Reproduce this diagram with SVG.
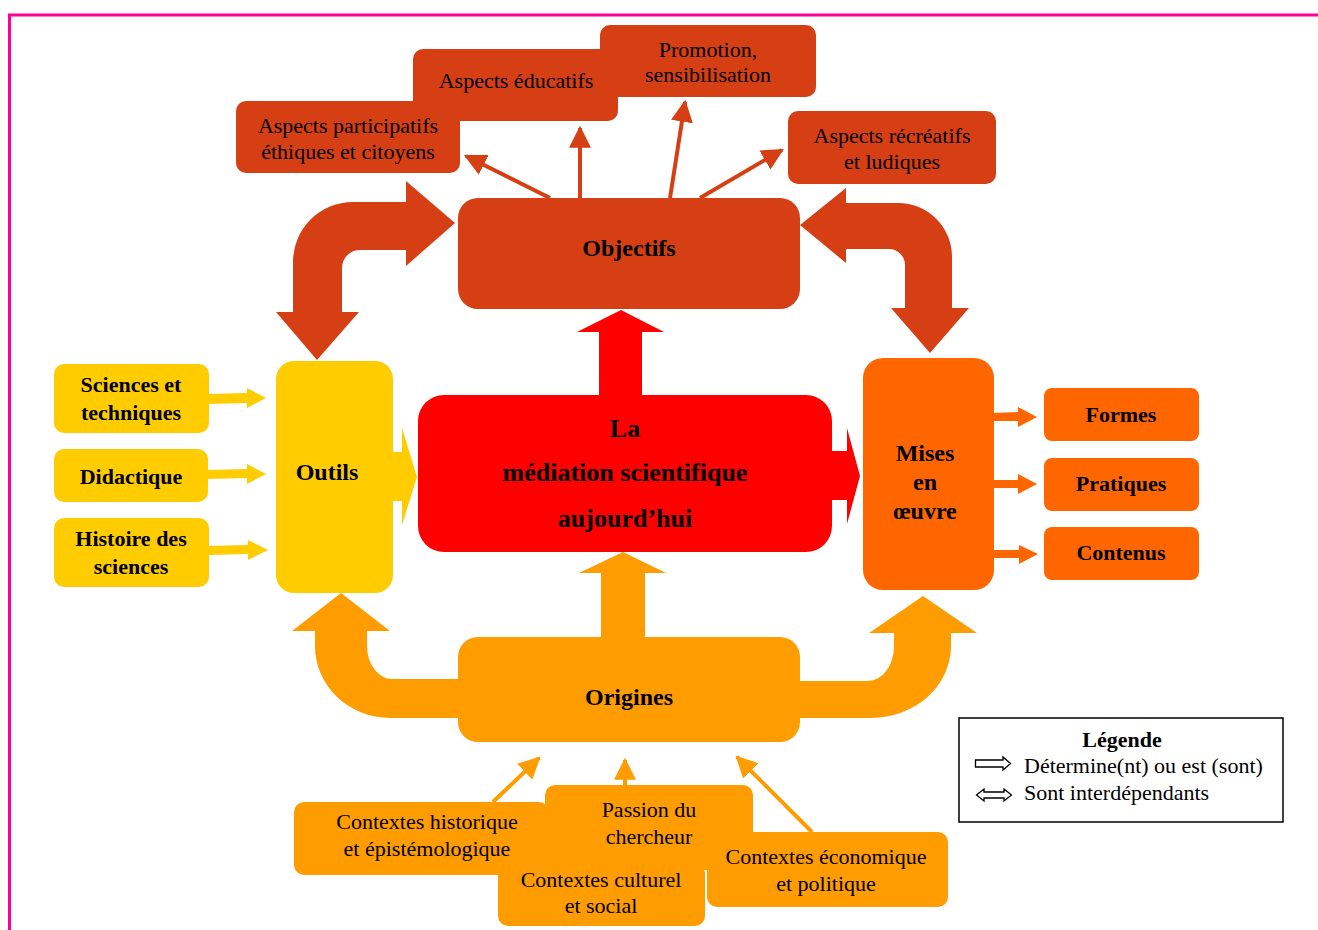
<svg xmlns="http://www.w3.org/2000/svg" width="1318" height="930" viewBox="0 0 1318 930">
<style>
text{font-family:"Liberation Serif","Times New Roman",serif;font-size:22px;fill:#000;text-anchor:middle}
.b{font-weight:bold}
.big{font-size:24px;font-weight:bold}
.med{font-size:26px;font-weight:bold}
.dk{fill:#D63F14}
.yl{fill:#FFCC00}
.og{fill:#FF6600}
.am{fill:#FF9C00}
.rd{fill:#FF0000}
.thin-dk{stroke:#D63F14;stroke-width:4;fill:none}
.thin-am{stroke:#FF9C00;stroke-width:4;fill:none}
</style>
<defs>
<marker id="hdk" viewBox="0 0 10 10" refX="9" refY="5" markerWidth="5.5" markerHeight="5.5" orient="auto" markerUnits="strokeWidth"><path d="M0,0 L10,5 L0,10 Z" fill="#D63F14"/></marker>
<marker id="ham" viewBox="0 0 10 10" refX="9" refY="5" markerWidth="5.5" markerHeight="5.5" orient="auto" markerUnits="strokeWidth"><path d="M0,0 L10,5 L0,10 Z" fill="#FF9C00"/></marker>
</defs>
<rect width="1318" height="930" fill="#fff"/>
<path d="M9.5 930 V15 H1318" fill="none" stroke="#FF0099" stroke-width="3"/>

<g id="connectors">
<line class="thin-dk" x1="550" y1="198" x2="466" y2="156" marker-end="url(#hdk)"/>
<line class="thin-dk" x1="580" y1="198" x2="580" y2="128" marker-end="url(#hdk)"/>
<line class="thin-dk" x1="670" y1="198" x2="685" y2="102" marker-end="url(#hdk)"/>
<line class="thin-dk" x1="700" y1="198" x2="782" y2="150" marker-end="url(#hdk)"/>
<path class="dk" d="M455 223 L406 181 L406 202 L353 202 A60 60 0 0 0 293 262 L293 312 L276 312 L317 360 L359 312 L342 312 L342 268 A18 18 0 0 1 360 250 L406 250 L406 266 Z"/>
<path class="dk" d="M800 225 L846 188 L846 203 L898 203 A54 54 0 0 1 952 257 L952 308 L969 308 L930 353 L891 308 L905 308 L905 265 A16 16 0 0 0 889 249 L846 249 L846 263 Z"/>
<path class="rd" d="M621 310 L664 332 L642 332 L642 396 L599 396 L599 332 L577 332 Z"/>
<path class="rd" d="M860 476 L847 428 L847 451 L831 451 L831 500 L847 500 L847 524 Z"/>
<path class="yl" d="M417 477 L402 428 L402 452 L392 452 L392 501 L402 501 L402 525 Z"/>
<path class="am" d="M623 552 L666 573 L645 573 L645 638 L601 638 L601 573 L579 573 Z"/>
<path class="am" d="M341 593 L390 631 L367 631 L367 646 A25 33 0 0 0 392 679 L459 679 L459 718 L390 718 A75 72 0 0 1 315 646 L315 631 L292 631 Z"/>
<path class="am" d="M923 596 L977 633 L951 633 L951 646 A80 72 0 0 1 871 718 L799 718 L799 681 L868 681 A26 35 0 0 0 894 646 L894 633 L869 633 Z"/>
<path class="yl" d="M208 394 L247 393 L247 388 L266 398 L247 408 L247 403 L208 404 Z"/>
<path class="yl" d="M207 470 L247 469 L247 464 L266 474 L247 484 L247 478 L207 479 Z"/>
<path class="yl" d="M208 546 L248 545 L248 540 L268 550 L248 560 L248 554 L208 555 Z"/>
<path class="og" d="M993 413 L1018 412 L1018 407 L1037 417 L1018 427 L1018 421 L993 421 Z"/>
<path class="og" d="M993 480 L1018 480 L1018 474 L1037 484 L1018 494 L1018 488 L993 488 Z"/>
<path class="og" d="M993 550 L1019 550 L1019 545 L1038 554 L1019 564 L1019 558 L993 558 Z"/>
<line class="thin-am" x1="493" y1="802" x2="539" y2="758" marker-end="url(#ham)"/>
<line class="thin-am" x1="625" y1="786" x2="625" y2="760" marker-end="url(#ham)"/>
<line class="thin-am" x1="812" y1="832" x2="737" y2="757" marker-end="url(#ham)"/>
</g>

<g id="aspects-educatifs"><rect class="dk" x="413" y="49" width="205" height="72" rx="10"/><text x="516" y="88">Aspects éducatifs</text></g>
<g id="aspects-participatifs"><rect class="dk" x="236" y="101" width="224" height="72" rx="10"/><text x="348" y="133">Aspects participatifs</text><text x="348" y="159">éthiques et citoyens</text></g>
<g id="promotion"><rect class="dk" x="600" y="25" width="216" height="72" rx="10"/><text x="708" y="57">Promotion,</text><text x="708" y="82">sensibilisation</text></g>
<g id="aspects-recreatifs"><rect class="dk" x="788" y="111" width="208" height="73" rx="10"/><text x="892" y="143">Aspects récréatifs</text><text x="892" y="169">et ludiques</text></g>

<g id="objectifs"><rect class="dk" x="458" y="198" width="342" height="111" rx="20"/><text class="big" x="629" y="256">Objectifs</text></g>

<g id="mediation"><rect class="rd" x="418" y="395" width="414" height="157" rx="26"/><text class="med" x="625" y="437">La</text><text class="med" x="625" y="481">médiation scientifique</text><text class="med" x="625" y="527">aujourd’hui</text></g>

<g id="outils"><rect class="yl" x="276" y="361" width="117" height="232" rx="18"/><text class="big" x="327" y="480">Outils</text></g>
<g id="sciences-techniques"><rect class="yl" x="54" y="364" width="155" height="69" rx="10"/><text class="b" x="131" y="392">Sciences et</text><text class="b" x="131" y="420">techniques</text></g>
<g id="didactique"><rect class="yl" x="54" y="449" width="154" height="53" rx="10"/><text class="b" x="131" y="484">Didactique</text></g>
<g id="histoire"><rect class="yl" x="54" y="518" width="155" height="69" rx="10"/><text class="b" x="131" y="546">Histoire des</text><text class="b" x="131" y="574">sciences</text></g>

<g id="mises-en-oeuvre"><rect class="og" x="863" y="358" width="131" height="232" rx="20"/><text class="big" x="925" y="461">Mises</text><text class="big" x="925" y="490">en</text><text class="big" x="925" y="519">œuvre</text></g>
<g id="formes"><rect class="og" x="1044" y="388" width="155" height="53" rx="8"/><text class="b" x="1121" y="422">Formes</text></g>
<g id="pratiques"><rect class="og" x="1044" y="458" width="155" height="53" rx="8"/><text class="b" x="1121" y="491">Pratiques</text></g>
<g id="contenus"><rect class="og" x="1044" y="527" width="155" height="53" rx="8"/><text class="b" x="1121" y="560">Contenus</text></g>

<g id="origines"><rect class="am" x="458" y="637" width="342" height="105" rx="20"/><text class="big" x="629" y="705">Origines</text></g>

<g id="contextes-historique"><rect class="am" x="294" y="802" width="255" height="73" rx="10"/><text x="427" y="829">Contextes historique</text><text x="427" y="856">et épistémologique</text></g>
<g id="passion"><rect class="am" x="545" y="785" width="208" height="85" rx="10"/><text x="649" y="817">Passion du</text><text x="649" y="844">chercheur</text></g>
<g id="contextes-culturel"><rect class="am" x="498" y="863" width="207" height="63" rx="10"/><text x="601" y="887">Contextes culturel</text><text x="601" y="913">et social</text></g>
<g id="contextes-economique"><rect class="am" x="707" y="832" width="241" height="75" rx="10"/><text x="826" y="864">Contextes économique</text><text x="826" y="891">et politique</text></g>

<g id="legende">
<rect x="959" y="718" width="324" height="104" fill="#fff" stroke="#000" stroke-width="1.5"/>
<text class="b" x="1122" y="747">Légende</text>
<path d="M975.5 760 H1003 V757 L1010.5 763.5 L1003 770 V767 H975.5 Z" fill="#fff" stroke="#000" stroke-width="1.3"/>
<text x="1024" y="773" style="text-anchor:start">Détermine(nt) ou est (sont)</text>
<path d="M976.5 795 L984 789 V792 H1004 V789 L1011.5 795 L1004 801 V798 H984 V801 Z" fill="#fff" stroke="#000" stroke-width="1.3"/>
<text x="1024" y="800" style="text-anchor:start">Sont interdépendants</text>
</g>
</svg>
